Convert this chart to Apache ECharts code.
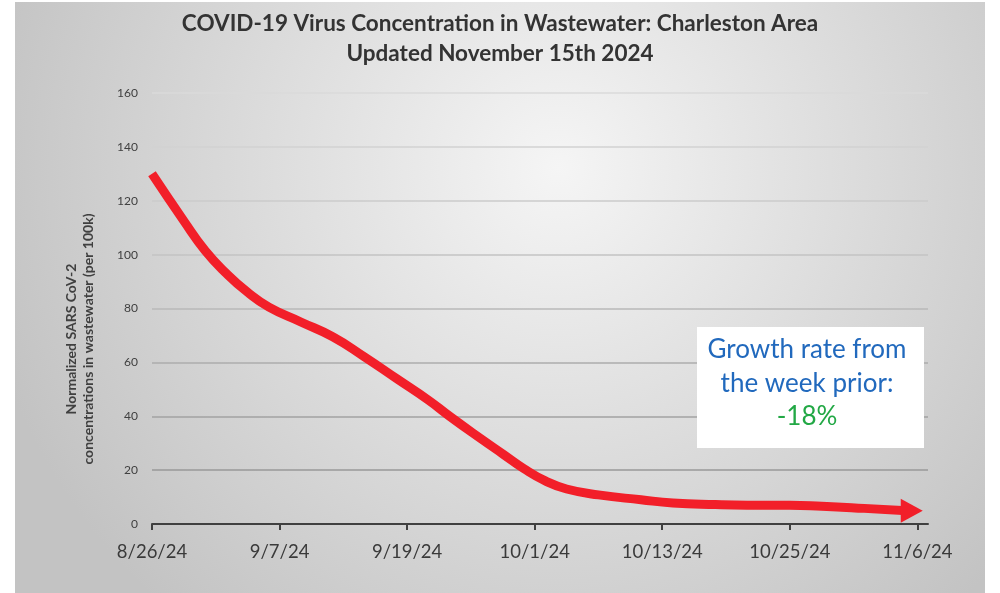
<!DOCTYPE html>
<html>
<head>
<meta charset="utf-8">
<script src="https://cdn.jsdelivr.net/npm/echarts@6/dist/echarts.min.js"></script>
<style>
  html, body { margin: 0; padding: 0; background: #ffffff; }
  #chart { width: 1000px; height: 593px; }
</style>
</head>
<body>
<div id="chart"></div>
<script>
// ---- data ----
const titleLines = ['COVID-19 Virus Concentration in Wastewater: Charleston Area', 'Updated November 15th 2024'];
const yAxisNameLines = ['Normalized SARS CoV-2', 'concentrations in wastewater (per 100k)'];
const startDate = '2024-08-26';
const tickLabels = ['8/26/24', '9/7/24', '9/19/24', '10/1/24', '10/13/24', '10/25/24', '11/6/24'];
const sampleDates = ['2024-08-26','2024-08-29','2024-08-31','2024-09-02','2024-09-04','2024-09-06','2024-09-09',
                     '2024-09-12','2024-09-15','2024-09-18','2024-09-21','2024-09-23','2024-09-26','2024-09-28',
                     '2024-09-30','2024-10-02','2024-10-04','2024-10-07','2024-10-11','2024-10-14','2024-10-18',
                     '2024-10-21','2024-10-25','2024-10-28','2024-11-01','2024-11-05'];
const sampleValues = [130, 112.5, 101.5, 93, 86, 80.5, 75,
                      69.5, 62, 54, 46, 40, 31.5, 26,
                      20.5, 16, 13, 10.8, 9, 7.8, 7.2,
                      7.0, 7.0, 6.6, 5.8, 4.9];
const growthLines = ['Growth rate from', 'the week prior:'];
const growthValue = '-18%';

// ---- build ----
const DAY = 86400000;
const t0 = Date.parse(startDate + 'T00:00:00Z');
const dayOf = s => Math.round((Date.parse(s + 'T00:00:00Z') - t0) / DAY);
const tickDays = tickLabels.map((_, i) => i * 12);
const seriesData = sampleDates.map((d, i) => {
  const item = { value: [dayOf(d), sampleValues[i]] };
  if (i === sampleDates.length - 1) {
    item.symbol = 'triangle';
    item.symbolSize = [24, 22];
    item.symbolRotate = -90;
    item.symbolOffset = [5, 0];
    item.itemStyle = { color: '#f21f29', borderWidth: 0 };
  }
  return item;
});

const chart = echarts.init(document.getElementById('chart'), null, { renderer: 'canvas' });
const FONT = 'Lato, "Open Sans", sans-serif';
const option = {
  animation: false,
  title: {
    text: titleLines.join('\n'),
    left: 'center',
    top: 4,
    textStyle: { fontFamily: FONT, fontSize: 22.5, fontWeight: 'bold', color: '#333333', lineHeight: 30 }
  },
  grid: { left: 152, right: 72, top: 93, bottom: 69, containLabel: false },
  xAxis: {
    type: 'value',
    min: 0,
    max: 73,
    axisLine: { show: true, lineStyle: { color: '#404040', width: 2 } },
    axisTick: { show: true, length: 6, customValues: tickDays, lineStyle: { color: '#404040', width: 2 } },
    axisLabel: {
      customValues: tickDays,
      margin: 19,
      fontFamily: FONT, fontSize: 18.5, color: '#3a3a3a',
      formatter: v => tickLabels[Math.round(v / 12)] || ''
    },
    splitLine: { show: false }
  },
  yAxis: {
    type: 'value',
    min: 0, max: 160, interval: 20,
    axisLine: { show: false },
    axisTick: { show: false },
    axisLabel: { margin: 14, fontFamily: FONT, fontSize: 12, color: '#404040' },
    splitLine: {
      show: true,
      lineStyle: { width: 1.5, color: ['#8f8f8f', '#999999', '#a2a2a2', '#acacac', '#b8b8b8', '#c3c3c3', '#cbcbcb', '#d2d2d2', '#dadada'] }
    }
  },
  graphic: [
    {
      type: 'rect', z: -100, silent: true,
      shape: { x: 15, y: 2, width: 970, height: 591 },
      style: {
        fill: {
          type: 'radial', x: 0.56, y: 0.28, r: 1.0,
          colorStops: [{ offset: 0, color: '#f5f5f5' }, { offset: 1, color: '#c3c3c3' }]
        }
      }
    },
    {
      type: 'text', silent: true,
      x: 80, y: 339, rotation: Math.PI / 2,
      style: {
        text: yAxisNameLines.join('\n'),
        fontFamily: FONT, fontSize: 14, fontWeight: 'bold', fill: '#404040',
        align: 'center', verticalAlign: 'middle', lineHeight: 17
      }
    },
    {
      type: 'rect', z: 50, silent: true,
      shape: { x: 697, y: 327, width: 227, height: 121 },
      style: { fill: '#ffffff' }
    },
    {
      type: 'text', z: 51, silent: true,
      x: 807, y: 367,
      style: {
        text: growthLines.join('\n'),
        fontFamily: FONT, fontSize: 26, fill: '#2169bd',
        align: 'center', verticalAlign: 'middle', lineHeight: 34
      }
    },
    {
      type: 'text', z: 51, silent: true,
      x: 807, y: 417,
      style: {
        text: growthValue,
        fontFamily: FONT, fontSize: 26, fill: '#22a845',
        align: 'center', verticalAlign: 'middle'
      }
    }
  ],
  series: [{
    type: 'line',
    data: seriesData,
    smooth: 0.5,
    symbol: 'none',
    showSymbol: true,
    showAllSymbol: true,
    clip: false,
    lineStyle: { color: '#f21f29', width: 9, cap: 'butt', join: 'round' },
    itemStyle: { color: '#f21f29' },
    z: 10
  }]
};
chart.setOption(option);
</script>
</body>
</html>
